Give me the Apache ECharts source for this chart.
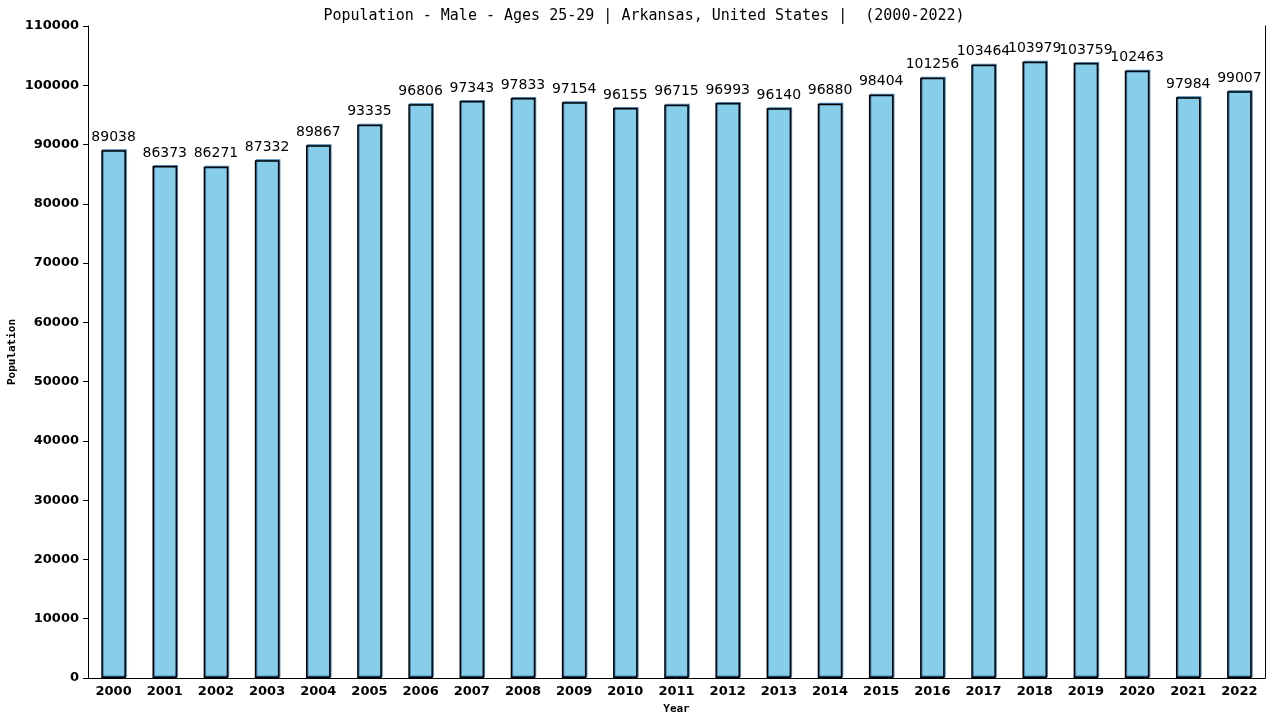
<!DOCTYPE html>
<html>
<head>
<meta charset="utf-8">
<script src="https://cdn.jsdelivr.net/npm/echarts@6/dist/echarts.min.js"></script>
<style>html,body{margin:0;padding:0;background:#fff;}#c{width:1280px;height:720px;}</style>
</head>
<body>
<div id="c"></div>
<script>
const years = ['2000','2001','2002','2003','2004','2005','2006','2007','2008','2009','2010','2011','2012','2013','2014','2015','2016','2017','2018','2019','2020','2021','2022'];
const population = [89038,86373,86271,87332,89867,93335,96806,97343,97833,97154,96155,96715,96993,96140,96880,98404,101256,103464,103979,103759,102463,97984,99007];
const titleText = 'Population - Male - Ages 25-29 | Arkansas, United States |  (2000-2022)';

const chart = echarts.init(document.getElementById('c'), null, {renderer: 'canvas'});
chart.setOption({
  animation: false,
  backgroundColor: '#ffffff',
  title: {
    text: titleText,
    left: 639, top: 4, textAlign: 'center',
    textStyle: {fontFamily: 'DejaVu Sans Mono', fontSize: 15, fontWeight: 'normal', color: '#000'}
  },
  grid: {left: 88, right: 15, top: 26, bottom: 42, containLabel: false, outerBoundsMode: 'none'},
  xAxis: {
    type: 'category',
    data: years,
    name: 'Year',
    nameLocation: 'middle',
    nameGap: 26,
    nameMoveOverlap: false,
    nameTextStyle: {fontFamily: 'DejaVu Sans Mono', fontSize: 11, fontWeight: 'bold', color: '#000'},
    axisLine: {show: true, lineStyle: {color: '#000', width: 1}},
    axisTick: {show: false},
    axisLabel: {fontFamily: 'DejaVu Sans', fontSize: 13, fontWeight: 'bold', color: '#000', margin: 7, interval: 0}
  },
  yAxis: [{
    type: 'value',
    min: 0, max: 110000, interval: 10000,
    name: 'Population',
    nameLocation: 'middle',
    nameGap: 70,
    nameMoveOverlap: false,
    nameTextStyle: {fontFamily: 'DejaVu Sans Mono', fontSize: 11, fontWeight: 'bold', color: '#000'},
    axisLine: {show: true, lineStyle: {color: '#000', width: 1}},
    axisTick: {show: true, length: 5, lineStyle: {color: '#000'}},
    axisLabel: {fontFamily: 'DejaVu Sans', fontSize: 13, fontWeight: 'bold', color: '#000', margin: 9,
      formatter: function (v) { return String(v); }},
    splitLine: {show: false}
  }, {
    type: 'value',
    position: 'right',
    min: 0, max: 110000, interval: 10000,
    axisLine: {show: true, lineStyle: {color: '#000', width: 1}},
    axisTick: {show: false},
    axisLabel: {show: false},
    splitLine: {show: false}
  }],
  series: [{
    type: 'bar',
    data: population,
    barWidth: '48%',
    itemStyle: {
      color: '#87ceeb',
      borderColor: '#000',
      borderWidth: 1.5,
      shadowColor: '#4682b4',
      shadowOffsetX: 1,
      shadowOffsetY: -1,
      shadowBlur: 0
    },
    label: {
      show: true,
      position: 'top',
      distance: 6,
      fontFamily: 'DejaVu Sans',
      fontSize: 14,
      color: '#000'
    }
  }]
});
</script>
</body>
</html>
